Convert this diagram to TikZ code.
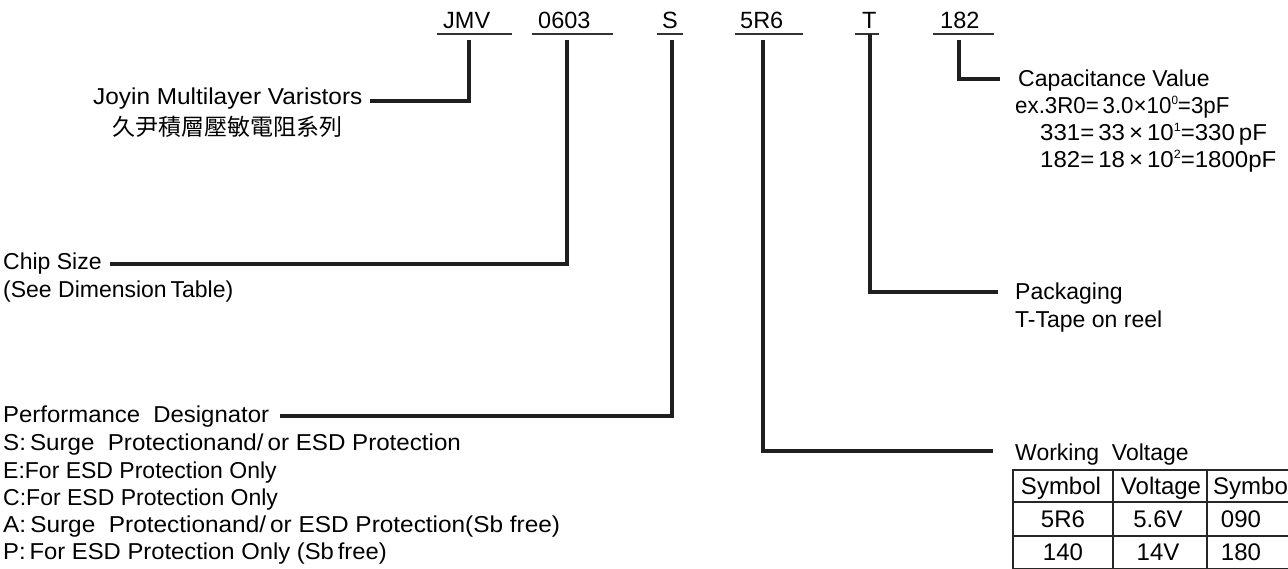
\documentclass[tikz,border=0pt]{standalone}
\usepackage{fontspec}
\usepackage{graphicx}
\setmainfont{Liberation Sans}
\newfontfamily\cjk{Noto Sans CJK TC}
\newcommand{\sups}[1]{\raisebox{0.75ex}{\fontsize{12}{12}\selectfont #1}}
\newcommand{\sx}[2]{\scalebox{#1}[1]{#2}}
\begin{document}
\begin{tikzpicture}[x=1pt,y=-1pt,
  txt/.style={font=\fontsize{23}{27}\selectfont, inner sep=0pt, anchor=base west},
  code/.style={font=\fontsize{23.5}{27}\selectfont, inner sep=0pt, anchor=base west},
  cell/.style={font=\fontsize{24}{28}\selectfont, inner sep=0pt, anchor=base},
  conn/.style={line width=3.2pt, draw=black!88},
  uline/.style={line width=1.8pt, draw=black!80},
  grid/.style={line width=2pt, draw=black!85}]
\useasboundingbox (0,0) rectangle (1288,569);
\clip (0,0) rectangle (1288,569);
\fill[white] (0,0) rectangle (1288,569);

% top code row
\node[code] (jmv)  at (443,29) {JMV};
\node[code] (s0603) at (538,29) {0603};
\node[code] (sdes) at (662,29) {S};
\node[code] (v5r6) at (740,29) {5R6};
\node[code] (tpk)  at (862,29) {T};
\node[code] (c182) at (940,29) {182};
\draw[uline] (437,34) -- (512,34);
\draw[uline] (532,34) -- (613,34);
\draw[uline] (657,34) -- (683,34);
\draw[uline] (735,34) -- (803,34);
\draw[uline] (855,34) -- (879,34);
\draw[uline] (933,34) -- (994,34);

% connector coordinates
\coordinate (jmvtop) at (469,40);
\coordinate (jmvend) at (370,101);
\coordinate (sztop) at (567,40);
\coordinate (szend) at (110,264);
\coordinate (pdtop) at (672,40);
\coordinate (pdend) at (280,416);
\coordinate (wvtop) at (763,40);
\coordinate (wvend) at (993,451);
\coordinate (pktop) at (870,34);
\coordinate (pkend) at (998,292);
\coordinate (cvtop) at (959,40);
\coordinate (cvend) at (1000,79);

\draw[conn] (jmvtop) |- (jmvend);
\draw[conn] (sztop) |- (szend);
\draw[conn] (pdtop) |- (pdend);
\draw[conn] (wvtop) |- (wvend);
\draw[conn] (pktop) |- (pkend);
\draw[conn] (cvtop) |- (cvend);

% left labels
\node[txt] (joyin) at (93,105) {\sx{1.06}{Joyin Multilayer Varistors}};
\node[txt, font=\fontsize{23}{26}\cjk] (joyincn) at (112,136) {久尹積層壓敏電阻系列};

\node[txt] (chip) at (3,270) {Chip Size};
\node[txt] (chip2) at (3,298) {(See Dimension\,Table)};

\node[txt] (perf) at (3,422) {\sx{1.04}{Performance\ \ Designator}};
\node[txt] (pS) at (3,450) {\sx{1.05}{S:\,Surge\ \ Protectionand/\,or ESD Protection}};
\node[txt] (pE) at (3,478) {E:For ESD Protection Only};
\node[txt] (pC) at (3,505) {C:For ESD Protection Only};
\node[txt] (pA) at (3,532) {\sx{1.06}{A:\,Surge\ \ Protectionand/\,or ESD Protection(Sb free)}};
\node[txt] (pP) at (3,559) {\sx{1.035}{P:\,For ESD Protection Only (Sb\,free)}};

% right labels
\node[txt] (cap) at (1018,87) {Capacitance Value};
\node[txt] (cap1) at (1015,114) {\sx{0.97}{ex.3R0=\,3.0×10\sups{0}=3pF}};
\node[txt] (cap2) at (1040,141) {\sx{1.045}{331=\,33\,×\,10\sups{1}=330\,pF}};
\node[txt] (cap3) at (1040,168) {\sx{1.045}{182=\,18\,×\,10\sups{2}=1800pF}};

\node[txt] (pack) at (1015,300) {Packaging};
\node[txt] (pack2) at (1015,328) {T-Tape on reel};

\node[txt] (work) at (1015,460) {Working\ \ Voltage};

% table
\draw[grid] (1013,470) rectangle (1302,569);
\draw[grid] (1013,502) -- (1302,502);
\draw[grid] (1013,536) -- (1302,536);
\draw[grid] (1113,470) -- (1113,569);
\draw[grid] (1207,470) -- (1207,569);
\node[cell] (h1) at (1061,494) {Symbol};
\node[cell] (h2) at (1161,494) {Voltage};
\node[cell, anchor=base west] (h3) at (1213,494) {Symbol};
\node[cell] (r11) at (1063,527) {5R6};
\node[cell] (r12) at (1158,527) {5.6V};
\node[cell] (r13) at (1241,527) {090};
\node[cell] (r21) at (1063,560) {140};
\node[cell] (r22) at (1158,560) {14V};
\node[cell] (r23) at (1241,560) {180};
\end{tikzpicture}
\end{document}
